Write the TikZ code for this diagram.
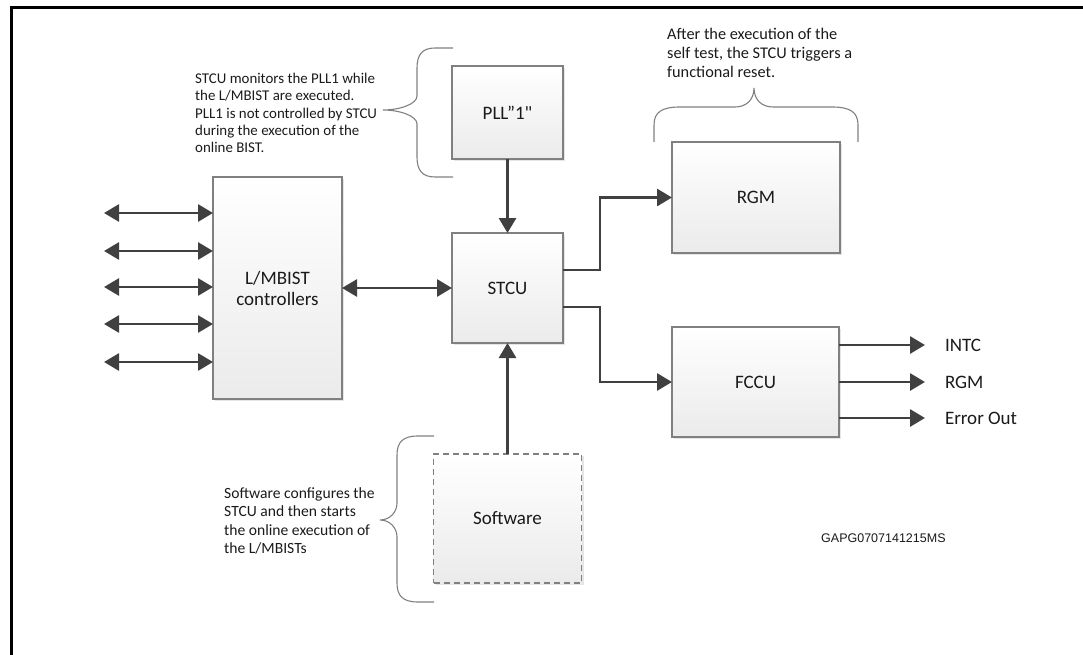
\documentclass[tikz,border=0pt]{standalone}
\usepackage{fontspec}
\setmainfont{Carlito}
\newfontfamily\rawfont{Carlito}[Ligatures=ResetAll]
\newfontfamily\labelfont{Liberation Sans}
\usetikzlibrary{arrows.meta,shadows,calc}

\definecolor{wire}{HTML}{404040}
\definecolor{edge}{HTML}{808080}
\definecolor{ink}{HTML}{1A1A1A}

\tikzset{
  block/.style={draw=edge, line width=1.1pt, top color=white, bottom color=black!8,
    drop shadow={shadow xshift=2pt, shadow yshift=-2pt, opacity=0.25, fill=black!40},
    text=ink, font=\fontsize{19}{22}\selectfont, align=center,
    inner sep=0pt, outer sep=0pt},
  swblock/.style={block, dashed, dash pattern=on 6pt off 4pt},
  wirearrow/.style={draw=wire, line width=2.8pt, -{Triangle[length=15pt, width=17pt]}},
  wirebiarrow/.style={draw=wire, line width=2.8pt,
    {Triangle[length=15pt, width=17pt]}-{Triangle[length=15pt, width=17pt]}},
  bracepath/.style={draw=edge, line width=1.1pt},
  note/.style={text=ink, align=left, inner sep=0pt, anchor=west},
  outlabel/.style={text=ink, font=\fontsize{19}{22}\selectfont, anchor=west,
    inner sep=0pt, outer sep=0pt},
}

\begin{document}
\begin{tikzpicture}[x=1pt, y=-1pt]
  \useasboundingbox (0,0) rectangle (1083,655);
  % outer frame
  \begin{scope}
    \clip (0,0) rectangle (1083,655);
    \draw[line width=3pt, black] (11,8) rectangle (1120,720);
  \end{scope}

  % blocks
  \node[block, minimum width=111pt, minimum height=93pt]  (pll)  at (507.5,112.5) {PLL''1{\rawfont"}};
  \node[block, minimum width=111pt, minimum height=110pt] (stcu) at (507.5,288) {STCU};
  \node[block, minimum width=129pt, minimum height=222pt] (lm)   at (277.5,288) {L/MBIST\\[-1pt]controllers};
  \node[block, minimum width=168pt, minimum height=111pt] (rgm)  at (756,197.5) {RGM};
  \node[block, minimum width=167pt, minimum height=110pt] (fccu) at (755.5,382) {FCCU};
  \node[swblock, minimum width=148pt, minimum height=129pt] (sw) at (507.5,518.5) {Software};

  % connections between blocks
  \draw[wirearrow] (pll.south) -- (stcu.north);
  \draw[wirearrow] (sw.north) -- (stcu.south);
  \draw[wirebiarrow] (lm.east) -- (stcu.west);
  \coordinate (jr) at (600,270);
  \coordinate (jf) at (600,307);
  \draw[wirearrow] (stcu.east |- jr) -- (jr) |- (rgm.west);
  \draw[wirearrow] (stcu.east |- jf) -- (jf) |- (fccu.west);

  % L/MBIST side ports
  \foreach \y [count=\i] in {213,251,287,324,362} {
    \coordinate (p\i) at (104,\y);
    \draw[wirebiarrow] (p\i) -- (p\i -| lm.west);
  }

  % FCCU outputs
  \node[outlabel] (intc) at (945,345) {INTC};
  \node[outlabel] (rgmo) at (945,382) {RGM};
  \node[outlabel] (eout) at (945,418) {Error Out};
  \coordinate (t1) at (925,345);
  \coordinate (t2) at (925,382);
  \coordinate (t3) at (925,418);
  \draw[wirearrow] (fccu.east |- t1) -- (t1);
  \draw[wirearrow] (fccu.east |- t2) -- (t2);
  \draw[wirearrow] (fccu.east |- t3) -- (t3);

  % brace beside PLL
  \draw[bracepath] (453,48) -- (435,48) .. controls (422,48) and (417,55) .. (417,68)
    -- (417,96) .. controls (417,104) and (400,110) .. (383,110)
    .. controls (400,110) and (417,116) .. (417,124)
    -- (417,157) .. controls (417,170) and (422,177) .. (435,177) -- (453,177);
  \node[note, font=\fontsize{14.9}{17.2}\selectfont] (pllnote) at (195,113) {STCU monitors the PLL1 while\\the L/MBIST are executed.\\PLL1 is not controlled by STCU\\during the execution of the\\online BIST.};

  % brace above RGM
  \draw[bracepath] (654,142) -- (654,125) .. controls (654,112) and (662,107) .. (680,107)
    -- (735,107) .. controls (746,107) and (754,100) .. (754,88)
    .. controls (754,100) and (762,107) .. (773,107)
    -- (832,107) .. controls (850,107) and (858,112) .. (858,125) -- (858,142);
  \node[note, font=\fontsize{16.3}{19}\selectfont] (rgmnote) at (667,53) {After the execution of the\\self test, the STCU triggers a\\functional reset.};

  % brace beside Software
  \draw[bracepath] (434,436) -- (418,436) .. controls (403,436) and (397,442) .. (397,455)
    -- (397,503) .. controls (397,512) and (390,520) .. (380,520)
    .. controls (390,520) and (397,528) .. (397,537)
    -- (397,583) .. controls (397,596) and (403,602) .. (418,602) -- (434,602);
  \node[note, font=\fontsize{15.6}{18.3}\selectfont] (swnote) at (224,521) {Software configures the\\STCU and then starts\\the online execution of\\the L/MBISTs};

  % figure code
  \node[anchor=west, inner sep=0pt, text=ink, font=\labelfont\fontsize{12.5}{14}\selectfont] (code) at (821,538) {GAPG0707141215MS};
\end{tikzpicture}
\end{document}
